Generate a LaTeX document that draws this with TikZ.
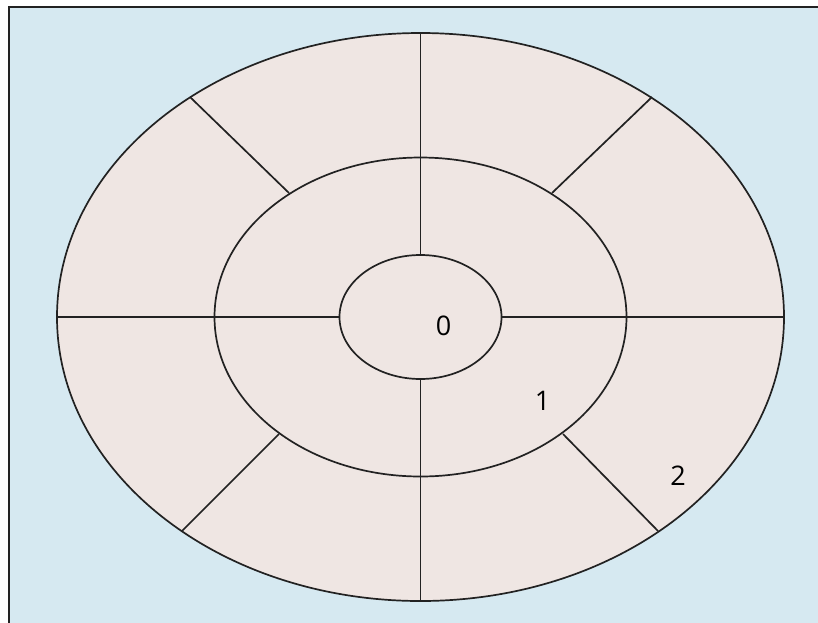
\documentclass[tikz,border=0pt]{standalone}
\usepackage{fontspec}
\setmainfont{Open Sans}
\definecolor{bgblue}{HTML}{D6E9F1}
\definecolor{disk}{HTML}{EFE6E3}
\definecolor{ink}{HTML}{222222}
\begin{document}
\begin{tikzpicture}[x=1pt,y=-1pt,
  ring/.style={draw=ink,line width=1.7pt},
  spoke/.style={draw=ink,line width=1.7pt},
  lbl/.style={font=\fontsize{27}{30}\selectfont,text=black,inner sep=0pt}]
\useasboundingbox (0,0) rectangle (818,622);
\fill[white] (0,0) rectangle (818,622);
\draw[fill=bgblue,draw=ink,line width=1.6pt] (9,7) rectangle (830,640);
% rings
\coordinate (c) at (420.5,317);
\fill[disk] (c) ellipse [x radius=363.5, y radius=284];
\draw[ring] (c) ellipse [x radius=363.5, y radius=284];
\draw[ring] (c) ellipse [x radius=206, y radius=159.5];
\draw[ring,fill=disk] (c) ellipse [x radius=81, y radius=62];
% axis spokes
\coordinate (it) at (420.5,255);
\coordinate (ib) at (420.5,379);
\coordinate (il) at (339.5,317);
\coordinate (ir) at (501.5,317);
\coordinate (ot) at (420.5,33);
\coordinate (ob) at (420.5,601);
\coordinate (ol) at (57,317);
\coordinate (or) at (784,317);
\draw[spoke] (it) -- (ot);
\draw[spoke] (ib) -- (ob);
\draw[spoke] (il) -- (ol);
\draw[spoke] (ir) -- (or);
% diagonal spokes
\coordinate (m1) at (552,193);
\coordinate (o1) at (652,97);
\coordinate (m2) at (289,193);
\coordinate (o2) at (190,97);
\coordinate (m3) at (279,434);
\coordinate (o3) at (182,531);
\coordinate (m4) at (563,434);
\coordinate (o4) at (658,531);
\draw[spoke] (m1) -- (o1);
\draw[spoke] (m2) -- (o2);
\draw[spoke] (m3) -- (o3);
\draw[spoke] (m4) -- (o4);
% labels
\node[lbl] (l0) at (443.5,325.5) {0};
\node[lbl] (l1) at (542.5,401) {1};
\node[lbl] (l2) at (678,476) {2};
\end{tikzpicture}
\end{document}
